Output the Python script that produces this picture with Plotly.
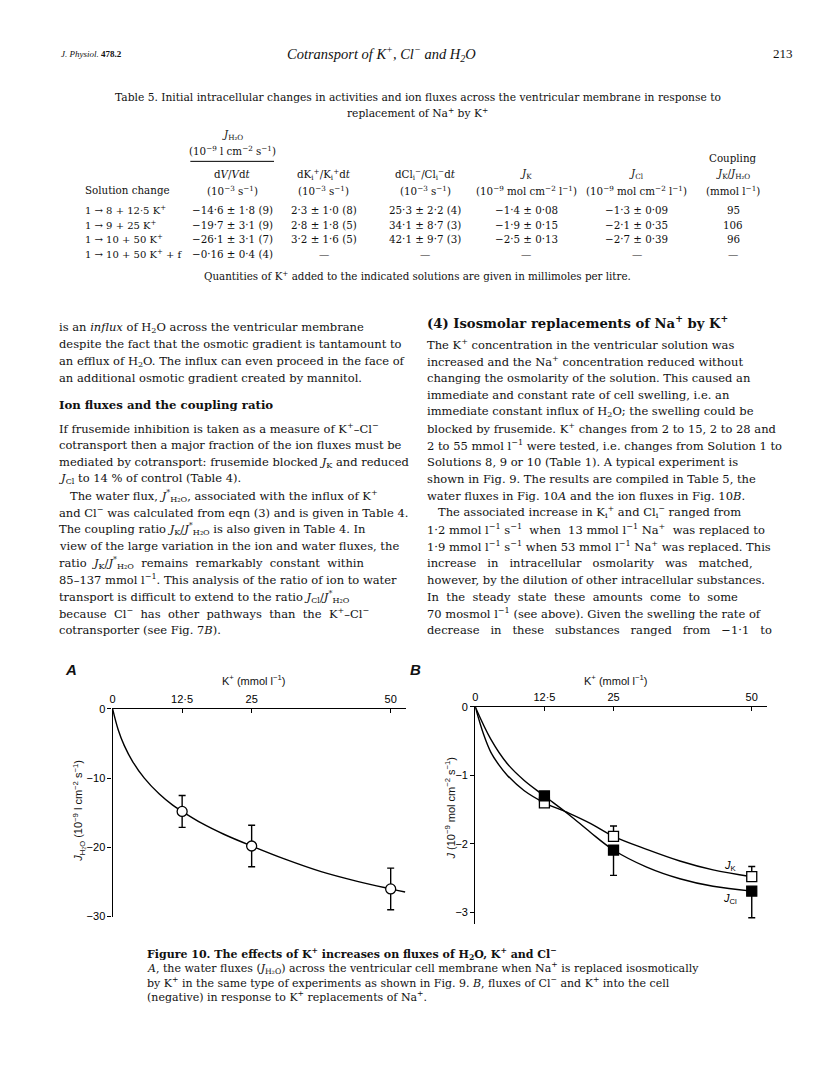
import plotly.graph_objects as go

W, H = 816, 1088
SERIF = "DejaVu Serif"
TIMES = "Liberation Serif"
SANS = "Liberation Sans"

# ---- Fig. 10 values ----
k_ticks = [0, 12.5, 25, 50]
k_labels = ["0", "12·5", "25", "50"]
k_conc = [12.5, 25, 50]

# A: water flux
jh2o = [-14.8, -19.8, -26.0]
jh2o_err = [2.3, 3.0, 3.0]
jh2o_fit_x = [0, 1.0, 2.1, 3.6, 5.7, 8.4, 10.8, 12.5, 16.0, 20.0, 25.0, 31.0, 37.5, 44.0, 50.0, 52.6]
jh2o_fit_y = [0, -3.0, -5.3, -7.6, -10.0, -12.3, -13.9, -14.8, -16.5, -18.1, -19.8, -21.7, -23.5, -24.9, -26.0, -26.45]

# B: ion fluxes
jk = [-1.40, -1.89, -2.48]
jk_err = [0.0, 0.15, 0.15]
jcl = [-1.30, -2.09, -2.69]
jcl_err = [0.0, 0.37, 0.39]
jk_fit_x = [0, 1.5, 2.8, 4.3, 5.8, 8.8, 12.5, 16.9, 20.8, 25, 31, 37, 43, 50]
jk_fit_y = [0, -0.40, -0.66, -0.85, -1.00, -1.22, -1.40, -1.55, -1.70, -1.89, -2.08, -2.25, -2.38, -2.48]
jcl_fit_x = [0, 2.8, 5.8, 8.8, 12.5, 16.9, 20.8, 25, 31, 37, 43, 50]
jcl_fit_y = [0, -0.47, -0.83, -1.07, -1.30, -1.57, -1.83, -2.09, -2.34, -2.51, -2.62, -2.69]

# ---- Table 5 ----
sol_change = ["1 → 8 + 12·5 K<sup>+</sup>", "1 → 9 + 25 K<sup>+</sup>",
              "1 → 10 + 50 K<sup>+</sup>", "1 → 10 + 50 K<sup>+</sup> + f"]
col_dv = ["−14·6 ± 1·8 (9)", "−19·7 ± 3·1 (9)", "−26·1 ± 3·1 (7)", "−0·16 ± 0·4 (4)"]
col_dk = ["2·3 ± 1·0 (8)", "2·8 ± 1·8 (5)", "3·2 ± 1·6 (5)", "—"]
col_dcl = ["25·3 ± 2·2 (4)", "34·1 ± 8·7 (3)", "42·1 ± 9·7 (3)", "—"]
col_jk = ["−1·4 ± 0·08", "−1·9 ± 0·15", "−2·5 ± 0·13", "—"]
col_jcl = ["−1·3 ± 0·09", "−2·1 ± 0·35", "−2·7 ± 0·39", "—"]
col_coup = ["95", "106", "96", "—"]

left_col = [
    "is an <i>influx</i> of H<sub>2</sub>O across the ventricular membrane",
    "despite the fact that the osmotic gradient is tantamount to",
    "an efflux of H<sub>2</sub>O. The influx can even proceed in the face of",
    "an additional osmotic gradient created by mannitol.",
]
left_col2 = [
    "If frusemide inhibition is taken as a measure of K<sup>+</sup>–Cl<sup>−</sup>",
    "cotransport then a major fraction of the ion fluxes must be",
    "mediated by cotransport: frusemide blocked <i>J</i><sub>K</sub> and reduced",
    "<i>J</i><sub>Cl</sub> to 14 % of control (Table 4).",
    "   The water flux, <i>J</i><sup>*</sup><sub>H₂O</sub>, associated with the influx of K<sup>+</sup>",
    "and Cl<sup>−</sup> was calculated from eqn (3) and is given in Table 4.",
    "The coupling ratio <i>J</i><sub>K</sub>/<i>J</i><sup>*</sup><sub>H₂O</sub> is also given in Table 4. In",
    "view of the large variation in the ion and water fluxes, the",
    "ratio  <i>J</i><sub>K</sub>/<i>J</i><sup>*</sup><sub>H₂O</sub>  remains  remarkably  constant  within",
    "85–137 mmol l<sup>−1</sup>. This analysis of the ratio of ion to water",
    "transport is difficult to extend to the ratio <i>J</i><sub>Cl</sub>/<i>J</i><sup>*</sup><sub>H₂O</sub>",
    "because  Cl<sup>−</sup>  has  other  pathways  than  the  K<sup>+</sup>–Cl<sup>−</sup>",
    "cotransporter (see Fig. 7<i>B</i>).",
]
right_col = [
    "The K<sup>+</sup> concentration in the ventricular solution was",
    "increased and the Na<sup>+</sup> concentration reduced without",
    "changing the osmolarity of the solution. This caused an",
    "immediate and constant rate of cell swelling, i.e. an",
    "immediate constant influx of H<sub>2</sub>O; the swelling could be",
    "blocked by frusemide. K<sup>+</sup> changes from 2 to 15, 2 to 28 and",
    "2 to 55 mmol l<sup>−1</sup> were tested, i.e. changes from Solution 1 to",
    "Solutions 8, 9 or 10 (Table 1). A typical experiment is",
    "shown in Fig. 9. The results are compiled in Table 5, the",
    "water fluxes in Fig. 10<i>A</i> and the ion fluxes in Fig. 10<i>B</i>.",
    "   The associated increase in K<sub>i</sub><sup>+</sup> and Cl<sub>i</sub><sup>−</sup> ranged from",
    "1·2 mmol l<sup>−1</sup> s<sup>−1</sup>  when  13 mmol l<sup>−1</sup> Na<sup>+</sup>  was replaced to",
    "1·9 mmol l<sup>−1</sup> s<sup>−1</sup> when 53 mmol l<sup>−1</sup> Na<sup>+</sup> was replaced. This",
    "increase   in   intracellular   osmolarity   was   matched,",
    "however, by the dilution of other intracellular substances.",
    "In  the  steady  state  these  amounts  come  to  some",
    "70 mosmol l<sup>−1</sup> (see above). Given the swelling the rate of",
    "decrease   in   these   substances   ranged   from   −1·1   to",
]
caption = [
    "<b>Figure 10. The effects of K<sup>+</sup> increases on fluxes of H<sub>2</sub>O, K<sup>+</sup> and Cl<sup>−</sup></b>",
    "<i>A</i>, the water fluxes (<i>J</i><sub>H₂O</sub>) across the ventricular cell membrane when Na<sup>+</sup> is replaced isosmotically",
    "by K<sup>+</sup> in the same type of experiments as shown in Fig. 9. <i>B</i>, fluxes of Cl<sup>−</sup> and K<sup>+</sup> into the cell",
    "(negative) in response to K<sup>+</sup> replacements of Na<sup>+</sup>.",
]

annots = []


def txt(s, x, y, size=11.5, anchor="left", family=SERIF, **kw):
    # x, y in page pixels
    annots.append(dict(text=s, x=x / W, y=1 - y / H, xref="paper", yref="paper",
                       xanchor=anchor, yanchor="middle", showarrow=False,
                       font=dict(family=family, size=size, color="#111"), **kw))


def px_dom(a, b, total):
    return [a / total, b / total]


fig = go.Figure()

# panel A
fig.add_trace(go.Scatter(x=jh2o_fit_x, y=jh2o_fit_y, mode="lines", line_shape="spline",
                         line=dict(color="black", width=1.4), xaxis="x", yaxis="y"))
fig.add_trace(go.Scatter(x=k_conc, y=jh2o, mode="markers", xaxis="x", yaxis="y",
                         marker=dict(symbol="circle", size=10, color="white",
                                     line=dict(color="black", width=1.3)),
                         error_y=dict(type="data", array=jh2o_err, color="black",
                                      thickness=1.4, width=3.5)))

# panel B
fig.add_trace(go.Scatter(x=jk_fit_x, y=jk_fit_y, mode="lines", line_shape="spline",
                         line=dict(color="black", width=1.4), xaxis="x2", yaxis="y2"))
fig.add_trace(go.Scatter(x=jcl_fit_x, y=jcl_fit_y, mode="lines", line_shape="spline",
                         line=dict(color="black", width=1.4), xaxis="x2", yaxis="y2"))
fig.add_trace(go.Scatter(x=k_conc, y=jk, mode="markers", xaxis="x2", yaxis="y2",
                         marker=dict(symbol="square", size=10, color="white",
                                     line=dict(color="black", width=1.3)),
                         error_y=dict(type="data", symmetric=False, array=jk_err,
                                      arrayminus=[0, 0, 0], color="black",
                                      thickness=1.4, width=3.5)))
fig.add_trace(go.Scatter(x=k_conc, y=jcl, mode="markers", xaxis="x2", yaxis="y2",
                         marker=dict(symbol="square", size=10, color="black",
                                     line=dict(color="black", width=1.3)),
                         error_y=dict(type="data", symmetric=False, array=[0, 0, 0],
                                      arrayminus=jcl_err, color="black",
                                      thickness=1.4, width=3.5)))

ax_common = dict(showline=True, linecolor="black", linewidth=1.3, showgrid=False,
                 zeroline=False, tickcolor="black", ticklen=4, tickwidth=1.2,
                 tickfont=dict(family=SANS, size=11, color="black"), fixedrange=True)

fig.update_layout(
    width=W, height=H, margin=dict(l=0, r=0, t=0, b=0),
    paper_bgcolor="white", plot_bgcolor="white", showlegend=False,
    xaxis=dict(domain=px_dom(102, 396.7, W), range=[0, 52.8], anchor="y", side="top",
               tickvals=k_ticks, ticktext=k_labels, ticks="inside", **ax_common),
    yaxis=dict(domain=[1 - 912.7 / H, 1 - 702.7 / H], range=[-30, 0], anchor="x",
               tickvals=[0, -10, -20, -30], ticktext=["0", "−10", "−20", "−30"],
               ticks="outside", **ax_common),
    xaxis2=dict(domain=px_dom(466, 758.3, W), range=[0, 52.67], anchor="y2", side="top",
                tickvals=k_ticks, ticktext=k_labels, ticks="inside", **ax_common),
    yaxis2=dict(domain=[1 - 920.1 / H, 1 - 700.7 / H], range=[-3.17, 0], anchor="x2",
                tickvals=[0, -1, -2, -3], ticktext=["0", "−1", "−2", "−3"],
                ticks="outside", **ax_common),
)

# figure labels
txt("<b><i>A</i></b>", 52, 663, size=15, family=SANS)
txt("<b><i>B</i></b>", 398, 663, size=15, family=SANS)
txt("K<sup>+</sup> (mmol l<sup>−1</sup>)", 243, 673, size=11, anchor="center", family=SANS)
txt("K<sup>+</sup> (mmol l<sup>−1</sup>)", 607, 673, size=11, anchor="center", family=SANS)
txt("<i>J</i><sub>H₂O</sub> (10<sup>−9</sup> l cm<sup>−2</sup> s<sup>−1</sup>)", 68, 806,
    size=11, anchor="center", family=SANS, textangle=-90)
txt("<i>J</i> (10<sup>−9</sup> mol cm<sup>−2</sup> s<sup>−1</sup>)", 441, 803,
    size=11, anchor="center", family=SANS, textangle=-90)
annots.append(dict(text="<i>J</i><sub>K</sub>", x=46.1, y=-2.33, xref="x2", yref="y2",
                   showarrow=False, font=dict(family=SANS, size=11, color="black")))
annots.append(dict(text="<i>J</i><sub>Cl</sub>", x=46.1, y=-2.81, xref="x2", yref="y2",
                   showarrow=False, font=dict(family=SANS, size=11, color="black")))

# running head
txt("<i>J. Physiol.</i> <b>478.2</b>", 48, 40, size=9, family=TIMES)
txt("<i>Cotransport of K<sup>+</sup>, Cl<sup>−</sup> and H<sub>2</sub>O</i>", 372, 40,
    size=14.5, anchor="center", family=TIMES)
txt("213", 787, 40, size=13, anchor="right", family=TIMES)

# table
TS = 10.3
txt("Table 5. Initial intracellular changes in activities and ion fluxes across the ventricular membrane in response to",
    408, 84, size=10.7, anchor="center")
txt("replacement of Na<sup>+</sup> by K<sup>+</sup>", 408, 100, size=10.7, anchor="center")
cx = [222, 314, 416, 517, 628, 725]
txt("<i>J</i><sub>H₂O</sub>", cx[0], 122, size=TS, anchor="center")
txt("(10<sup>−9</sup> l cm<sup>−2</sup> s<sup>−1</sup>)", cx[0], 138, size=TS, anchor="center")
fig.add_shape(type="line", xref="paper", yref="paper", x0=180 / W, x1=264 / W,
              y0=1 - 149 / H, y1=1 - 149 / H, line=dict(color="black", width=1))
txt("Coupling", cx[5], 146, size=TS, anchor="center")
heads = ["d<i>V</i>/<i>V</i>d<i>t</i>", "dK<sub>i</sub><sup>+</sup>/K<sub>i</sub><sup>+</sup>d<i>t</i>",
         "dCl<sub>i</sub><sup>−</sup>/Cl<sub>i</sub><sup>−</sup>d<i>t</i>", "<i>J</i><sub>K</sub>",
         "<i>J</i><sub>Cl</sub>", "<i>J</i><sub>K</sub>/<i>J</i><sub>H₂O</sub>"]
units = ["(10<sup>−3</sup> s<sup>−1</sup>)", "(10<sup>−3</sup> s<sup>−1</sup>)", "(10<sup>−3</sup> s<sup>−1</sup>)",
         "(10<sup>−9</sup> mol cm<sup>−2</sup> l<sup>−1</sup>)", "(10<sup>−9</sup> mol cm<sup>−2</sup> l<sup>−1</sup>)",
         "(mmol l<sup>−1</sup>)"]
for c, h, u in zip(cx, heads, units):
    txt(h, c, 162, size=TS, anchor="center")
    txt(u, c, 178, size=TS, anchor="center")
txt("Solution change", 72, 178, size=TS)
row_y = [198, 213, 228, 243]
for i, y in enumerate(row_y):
    txt(sol_change[i], 72, y, size=10)
    for c, col in zip(cx, [col_dv, col_dk, col_dcl, col_jk, col_jcl, col_coup]):
        txt(col[i], c, y, size=TS, anchor="center")
txt("Quantities of K<sup>+</sup> added to the indicated solutions are given in millimoles per litre.",
    408, 264, size=TS, anchor="center")

# body text
LH = 17
for i, s in enumerate(left_col):
    txt(s, 46, 317 + i * LH)
txt("<b>Ion fluxes and the coupling ratio</b>", 46, 395, size=11.7)
for i, s in enumerate(left_col2):
    txt(s, 46, 419 + i * LH)
txt("<b>(4) Isosmolar replacements of Na<sup>+</sup> by K<sup>+</sup></b>", 416, 311, size=13.2)
for i, s in enumerate(right_col):
    txt(s, 416, 334 + i * LH)

# caption
for i, s in enumerate(caption):
    txt(s, 134, 950 + i * 14.5, size=11)

fig.update_layout(annotations=annots)
fig.write_html("out.html")
